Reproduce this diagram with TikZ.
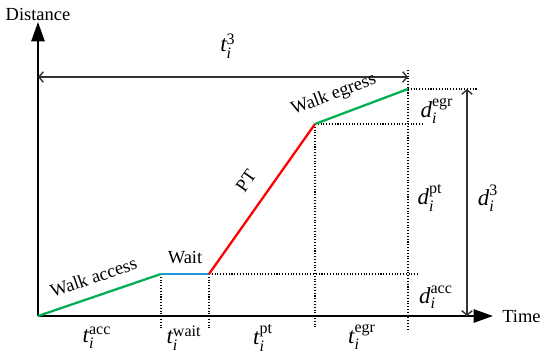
\documentclass[tikz,border=0pt]{standalone}
\usepackage{amsmath}
\usepackage{fontspec}
\setmainfont{Liberation Serif}
\usetikzlibrary{arrows.meta}
\definecolor{walkgreen}{HTML}{00B050}
\definecolor{waitblue}{HTML}{1E9BD7}
\definecolor{ptred}{HTML}{FF0000}
\definecolor{dimgray}{HTML}{333333}
\newcommand{\segvar}[2]{$\textit{#1}_{\textit{i}}^{\textrm{#2}}$}

\begin{document}
\begin{tikzpicture}[x=0.02cm, y=-0.02cm, >=Latex]
    \tikzstyle{axisline} = [line width=1.2pt, draw=black, -{Triangle[length=11pt, width=7.5pt]}]
    \tikzstyle{seg} = [line width=1.3pt]
    \tikzstyle{guide} = [densely dotted, line width=0.6pt]
    \tikzstyle{span} = [draw=dimgray, line width=0.8pt, {Straight Barb[length=2.5pt, width=6pt]}-{Straight Barb[length=2.5pt, width=6pt]}]
    \tikzstyle{word} = [font=\fontsize{10.5}{12}\selectfont]
    \tikzstyle{sym} = [font=\fontsize{13}{15}\selectfont, inner sep=1pt]

    \useasboundingbox (0,0) rectangle (550,357);

    \coordinate (O) at (38,316);
    \coordinate (xend) at (493,316);
    \coordinate (yend) at (38,22);
    \coordinate (A) at (161,274);
    \coordinate (B) at (209,274);
    \coordinate (C) at (315,124);
    \coordinate (D) at (408,89);

    \coordinate (A0) at (161,329);
    \coordinate (B0) at (209,329);
    \coordinate (C0) at (315,329);
    \coordinate (D0) at (408,329);
    \coordinate (D1) at (408,70);
    \coordinate (B1) at (418,274);
    \coordinate (C1) at (422,124);
    \coordinate (D2) at (478,89);

    \coordinate (T0) at (38,77);
    \coordinate (T1) at (408,77);
    \coordinate (H0) at (467,89);
    \coordinate (H1) at (467,316);

    \draw [guide] (A) -- (A0);
    \draw [guide] (B) -- (B0);
    \draw [guide] (C) -- (C0);
    \draw [guide] (D1) -- (D0);
    \draw [guide] (B) -- (B1);
    \draw [guide] (C) -- (C1);
    \draw [guide] (D) -- (D2);

    \draw [axisline] (O) -- (xend);
    \draw [axisline] (O) -- (yend);
    \node [word] (ylab) at (38,14) {Distance};
    \node [word, right, inner sep=0pt] (xlab) at (502,316) {Time};

    \draw [span] (T0) -- (T1);
    \draw [span] (H0) -- (H1);

    \draw [seg, walkgreen] (O) -- node[word, black, sloped, above=3pt] (lacc) {Walk access} (A);
    \draw [seg, waitblue] (A) -- node[word, black, above=2pt] (lwait) {Wait} (B);
    \draw [seg, ptred] (B) -- node[word, black, sloped, above=6pt, pos=0.53] (lpt) {PT} (C);
    \draw [seg, walkgreen] (C) -- node[word, black, sloped, above=3pt, pos=0.28] (legr) {Walk egress} (D);

    \node [sym] (t3) at (228,46) {\segvar{t}{3}};
    \node [sym] (tacc) at (97,338) {\segvar{t}{acc}};
    \node [sym] (twait) at (184,338) {\segvar{t}{wait}};
    \node [sym] (tpt) at (263,338) {\segvar{t}{pt}};
    \node [sym] (tegr) at (362,337) {\segvar{t}{egr}};
    \node [sym] (degr) at (437,111) {\segvar{d}{egr}};
    \node [sym] (dpt) at (430,198) {\segvar{d}{pt}};
    \node [sym] (dacc) at (436,297) {\segvar{d}{acc}};
    \node [sym] (d3) at (488,198) {\segvar{d}{3}};
\end{tikzpicture}
\end{document}
